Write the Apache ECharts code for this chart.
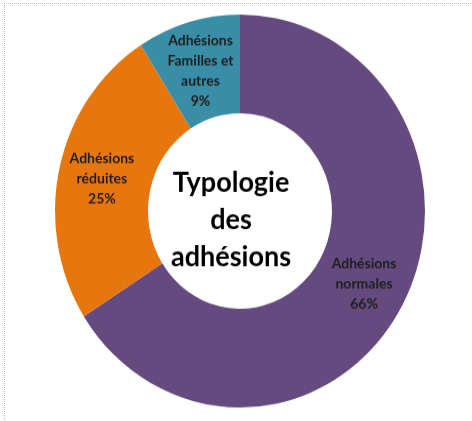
<!DOCTYPE html>
<html>
<head>
<meta charset="utf-8">
<script src="https://cdn.jsdelivr.net/npm/echarts@6/dist/echarts.min.js"></script>
<style>
    html, body { margin: 0; padding: 0; background: #fff; }
    /* l'image d'origine est légèrement étirée en hauteur */
    #chart { width: 472px; height: 421px; transform: scaleY(1.062); transform-origin: 240px 211px; }
    /* cadre pointillé en haut et à gauche */
    #frame { position: absolute; left: 4px; top: 3px; width: 468px; height: 418px;
             border-top: 1px dotted #bbb; border-left: 1px dotted #bbb; pointer-events: none; }
</style>
</head>
<body>
<div id="chart"></div>
<div id="frame"></div>
<script>
// données du graphique
var categories = ['Adhésions\nnormales', 'Adhésions\nréduites', 'Adhésions\nFamilles et\nautres'];
var values = [66, 25, 9];
var colors = ['#644a7e', '#e8760e', '#3a8da6'];
var centerTitle = 'Typologie\ndes\nadhésions';

var myChart = echarts.init(document.getElementById('chart'));
var seriesData = [];
for (var i = 0; i < categories.length; i++) {
    seriesData.push({ name: categories[i], value: values[i], itemStyle: { color: colors[i] } });
}
// petit décalage du libellé "Familles" vers le bas
seriesData[2].label = { offset: [0, 4] };

var option = {
    animation: false,
    graphic: [{
        type: 'text',
        x: 231,
        y: 219,
        style: {
            text: centerTitle,
            textAlign: 'center',
            textVerticalAlign: 'middle',
            font: 'bold 27px Lato, "Open Sans", sans-serif',
            lineHeight: 35,
            fill: '#000'
        }
    }],
    series: [
        {
            type: 'pie',
            center: [240, 211],
            radius: [92, 185],
            startAngle: 90,
            clockwise: true,
            avoidLabelOverlap: false,
            label: {
                show: true,
                position: 'inside',
                formatter: '{b}\n{c}%',
                color: '#1e1e1e',
                fontFamily: 'Lato, "Open Sans", sans-serif',
                fontWeight: 'bold',
                fontSize: 14,
                lineHeight: 19
            },
            labelLine: { show: false },
            itemStyle: { borderWidth: 0 },
            data: seriesData
        }
    ]
};
myChart.setOption(option);
</script>
</body>
</html>
